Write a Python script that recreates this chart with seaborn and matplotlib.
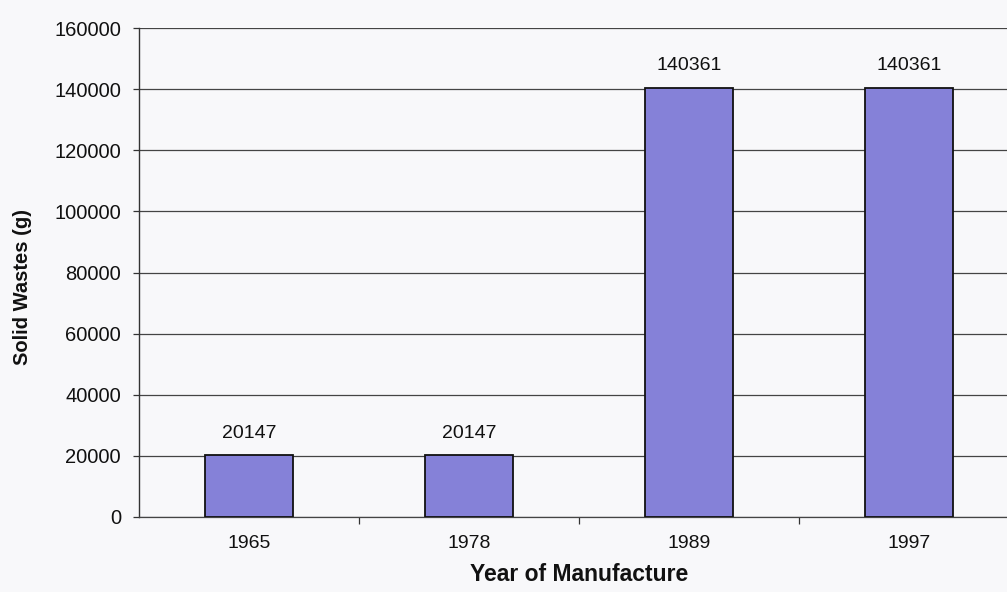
import matplotlib
matplotlib.use("Agg")
import matplotlib.pyplot as plt
import seaborn as sns
import pandas as pd

years = ["1965", "1978", "1989", "1997"]
solid_wastes = [20147, 20147, 140361, 140361]

df = pd.DataFrame({"Year": years, "Waste": solid_wastes})

sns.set_theme(style="white")
plt.rcParams["font.family"] = ["Liberation Sans", "DejaVu Sans"]

fig = plt.figure(figsize=(10.07, 5.92), dpi=100)
fig.patch.set_facecolor("#f8f8fa")
# plot area runs slightly past the right edge of the canvas
ax = fig.add_axes([139 / 1007, 1 - 517 / 592, 880 / 1007, 489 / 592])
ax.set_facecolor("#f8f8fa")

sns.barplot(data=df, x="Year", y="Waste", order=years, width=0.4,
            color="#8581d8", saturation=1, edgecolor="#111111",
            linewidth=1.3, ax=ax, zorder=3)

ax.set_ylim(0, 160000)
ax.set_xlim(-0.5, 3.5)
ax.set_yticks(range(0, 160001, 20000))
ax.yaxis.grid(True, color="#444444", linewidth=0.9, zorder=0)
ax.set_axisbelow(True)

for s in ["top", "right"]:
    ax.spines[s].set_visible(False)
ax.spines["left"].set_color("#333333")
ax.spines["left"].set_linewidth(1.0)
ax.spines["bottom"].set_color("#444444")
ax.spines["bottom"].set_linewidth(0.9)

ax.tick_params(axis="y", which="major", left=True, length=4, width=0.9,
               color="#333333", labelsize=14.5, pad=9)
ax.tick_params(axis="x", which="major", bottom=False, length=0,
               labelsize=14, pad=13)
ax.set_xticks([0.5, 1.5, 2.5], minor=True)
ax.tick_params(axis="x", which="minor", bottom=True, length=5, width=0.9,
               color="#333333")

ax.bar_label(ax.containers[0], labels=[str(v) for v in solid_wastes],
             padding=10, fontsize=14, color="#111111")

ax.set_xlabel("Year of Manufacture", fontsize=16.5, fontweight="bold",
              labelpad=8, color="#111111")
ax.set_ylabel("Solid Wastes (g)", fontsize=14.5, fontweight="bold",
              color="#111111")
ax.yaxis.set_label_coords(-0.122, 0.47)
for lbl in ax.get_xticklabels() + ax.get_yticklabels():
    lbl.set_color("#111111")

fig.savefig("out.png", dpi=100, facecolor=fig.get_facecolor())
